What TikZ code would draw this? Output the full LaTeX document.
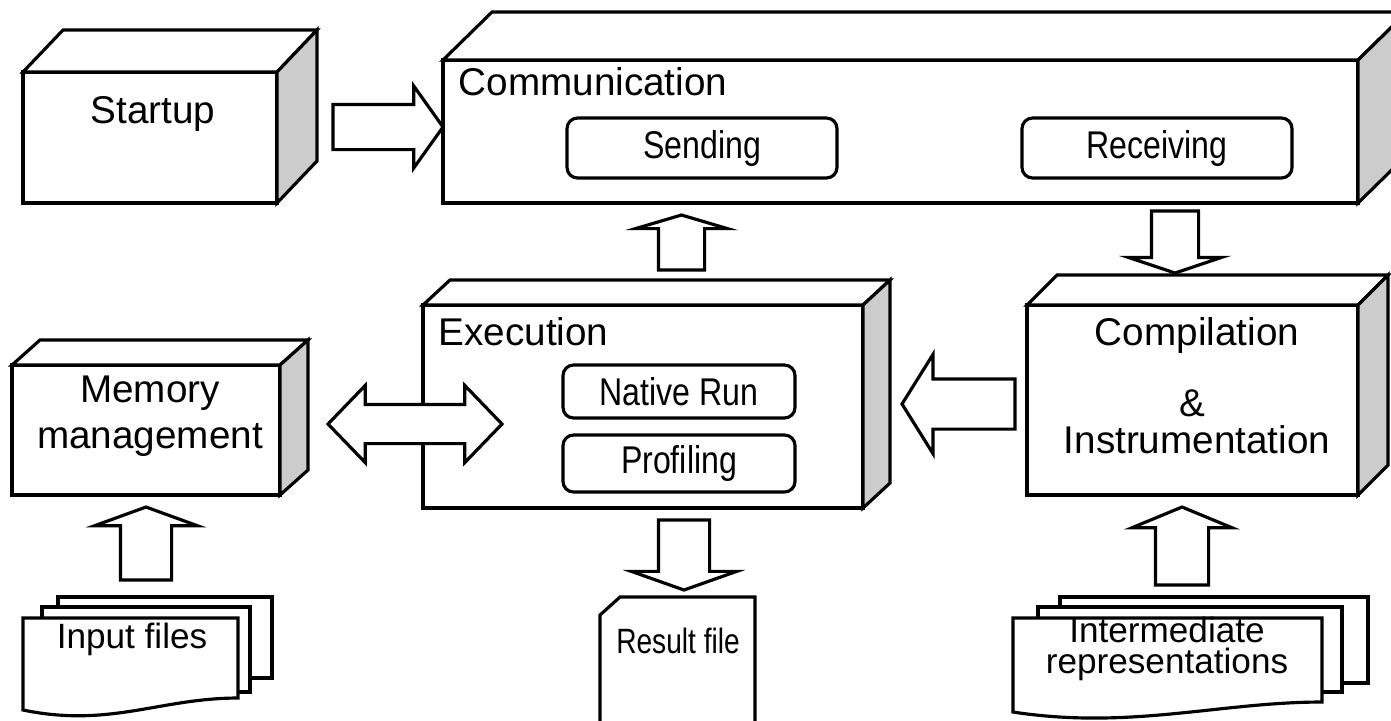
\documentclass[tikz,border=0pt]{standalone}
\usepackage{fontspec}
\setmainfont{Liberation Sans}
\usetikzlibrary{shapes.arrows,calc,positioning}
\definecolor{sidegray}{gray}{0.8}
\tikzstyle{block} =[draw, fill=white, line width=0.9pt,
                    inner sep=0pt, outer sep=0pt]
\tikzstyle{face}  =[draw, fill=white, line width=0.9pt]
\tikzstyle{part}  =[draw, fill=white, line width=0.9pt, rounded corners=3pt,
                    inner sep=0pt, outer sep=0pt,
                    font=\fontsize{11}{13}\selectfont]
\tikzstyle{fat}   =[single arrow, draw, fill=white, line width=0.9pt,
                    inner xsep=0pt, outer sep=0pt, anchor=tail]
\tikzstyle{twoway}=[double arrow, draw, fill=white, line width=0.9pt,
                    inner xsep=0pt, outer sep=0pt]
\tikzstyle{sheet} =[draw, fill=white, line width=0.9pt,
                    inner sep=0pt, outer sep=0pt]
\tikzstyle{lbl}   =[font=\fontsize{11}{13}\selectfont, inner sep=0pt,
                    anchor=base]
\tikzstyle{filelbl}=[font=\fontsize{10}{12}\selectfont, inner sep=0pt,
                    anchor=base]
\newcommand{\slim}[1]{\scalebox{0.83}[1]{#1}}
% top and side faces behind a block node: #1 node, #2/#3 depth
\newcommand{\solid}[3]{%
  \draw[face] (#1.north west) -- ++(#2,-#3)
        -- ++($(#1.north east)-(#1.north west)$) -- (#1.north east) -- cycle;
  \draw[face, fill=sidegray] (#1.north east) -- ++(#2,-#3)
        -- ++($(#1.south east)-(#1.north east)$) -- (#1.south east) -- cycle;}

\begin{document}
\begin{tikzpicture}[x=0.1mm, y=-0.1mm]
    \clip (0,0) rectangle (1391,720);

    % blocks
    \node[block, minimum width=2.54cm, minimum height=1.31cm] (startup) at (150,137.5) {};
    \solid{startup}{40}{42}
    \node[lbl] (startuptxt) at (153,123) {Startup};

    \node[block, minimum width=9.15cm, minimum height=1.43cm] (comm) at (900.5,131.5) {};
    \solid{comm}{49}{48}
    \node[lbl, anchor=base west] (commtxt) at (458,95) {Communication};
    \node[part, minimum width=2.70cm, minimum height=0.60cm] (send) at (702,148) {\slim{Sending}};
    \node[part, minimum width=2.70cm, minimum height=0.60cm] (recv) at (1157,148) {\slim{Receiving}};

    \node[block, minimum width=2.68cm, minimum height=1.30cm] (mem) at (146,430) {};
    \solid{mem}{28}{25}
    \node[lbl] (memtxt) at (150,402) {Memory};
    \node[lbl] (memtxtb) at (150,448) {management};

    \node[block, minimum width=4.40cm, minimum height=2.03cm] (exec) at (643,406.5) {};
    \solid{exec}{27}{25}
    \node[lbl, anchor=base west] (exectxt) at (438,345) {Execution};
    \node[part, minimum width=2.32cm, minimum height=0.53cm] (native) at (679,391.5) {\slim{Native Run}};
    \node[part, minimum width=2.32cm, minimum height=0.57cm, below=0.17cm of native] (prof) {\slim{Profiling}};

    \node[block, minimum width=3.31cm, minimum height=1.90cm] (comp) at (1192.5,400) {};
    \solid{comp}{30}{30}
    \node[lbl] (comptxt) at (1197,345) {Compilation};
    \node[lbl] (amp) at (1192,416) {\&};
    \node[lbl] (insttxt) at (1197,453) {Instrumentation};

    % files
    \node[sheet, minimum width=2.14cm, minimum height=0.81cm] (inc) at (165,637.5) {};
    \node[sheet, minimum width=2.08cm, minimum height=0.85cm] (inb) at (146,649.5) {};
    \draw[sheet] (23,618) coordinate (ina) -- (238,618) -- (238,698)
        .. controls (160,698) and (110,728) .. (23,710) -- cycle;
    \node[filelbl] (intxt) at (132,648) {Input files};

    \draw[sheet] (620,597) coordinate (res) -- (755,597) -- (755,730) -- (600,730)
        -- (600,615) -- cycle;
    \node[filelbl] (restxt) at (678,653) {\scalebox{0.8}[1]{Result file}};

    \node[sheet, minimum width=3.08cm, minimum height=0.86cm] (irc) at (1214,640) {};
    \node[sheet, minimum width=3.04cm, minimum height=0.85cm] (irb) at (1190,649.5) {};
    \draw[sheet] (1013,618) coordinate (ira) -- (1322,618) -- (1322,702)
        .. controls (1220,702) and (1130,730) .. (1013,712) -- cycle;
    \node[filelbl] (irtxt) at (1167,642) {Intermediate};
    \node[filelbl] (irtxtb) at (1167,673) {representations};

    % block arrows, placed by their tails
    \node[fat, inner ysep=0.21cm, minimum height=1.10cm, minimum width=0.79cm,
          single arrow head extend=0.185cm, single arrow tip angle=109] (a1) at (333,127) {};
    \node[fat, rotate=90, inner ysep=0.215cm, minimum height=0.55cm, minimum width=0.89cm,
          single arrow head extend=0.23cm, single arrow tip angle=147] (a2) at (681.5,270) {};
    \node[fat, rotate=-90, inner ysep=0.22cm, minimum height=0.62cm, minimum width=0.90cm,
          single arrow head extend=0.23cm, single arrow tip angle=143] (a3) at (1175,211) {};
    \node[fat, rotate=180, inner ysep=0.235cm, minimum height=1.13cm, minimum width=0.96cm,
          single arrow head extend=0.245cm, single arrow tip angle=116] (a4) at (1015,404) {};
    \node[twoway, inner ysep=0.18cm, minimum height=1.74cm, minimum width=0.74cm,
          double arrow head extend=0.19cm, double arrow tip angle=92] (a5) at (415,424) {};
    \node[fat, rotate=-90, inner ysep=0.24cm, minimum height=0.70cm, minimum width=1.02cm,
          single arrow head extend=0.27cm, single arrow tip angle=141] (a6) at (684,520) {};
    \node[fat, rotate=90, inner ysep=0.24cm, minimum height=0.73cm, minimum width=1.00cm,
          single arrow head extend=0.26cm, single arrow tip angle=140] (a7) at (146,580) {};
    \node[fat, rotate=90, inner ysep=0.25cm, minimum height=0.78cm, minimum width=0.97cm,
          single arrow head extend=0.235cm, single arrow tip angle=135] (a8) at (1182,585) {};
\end{tikzpicture}
\end{document}
